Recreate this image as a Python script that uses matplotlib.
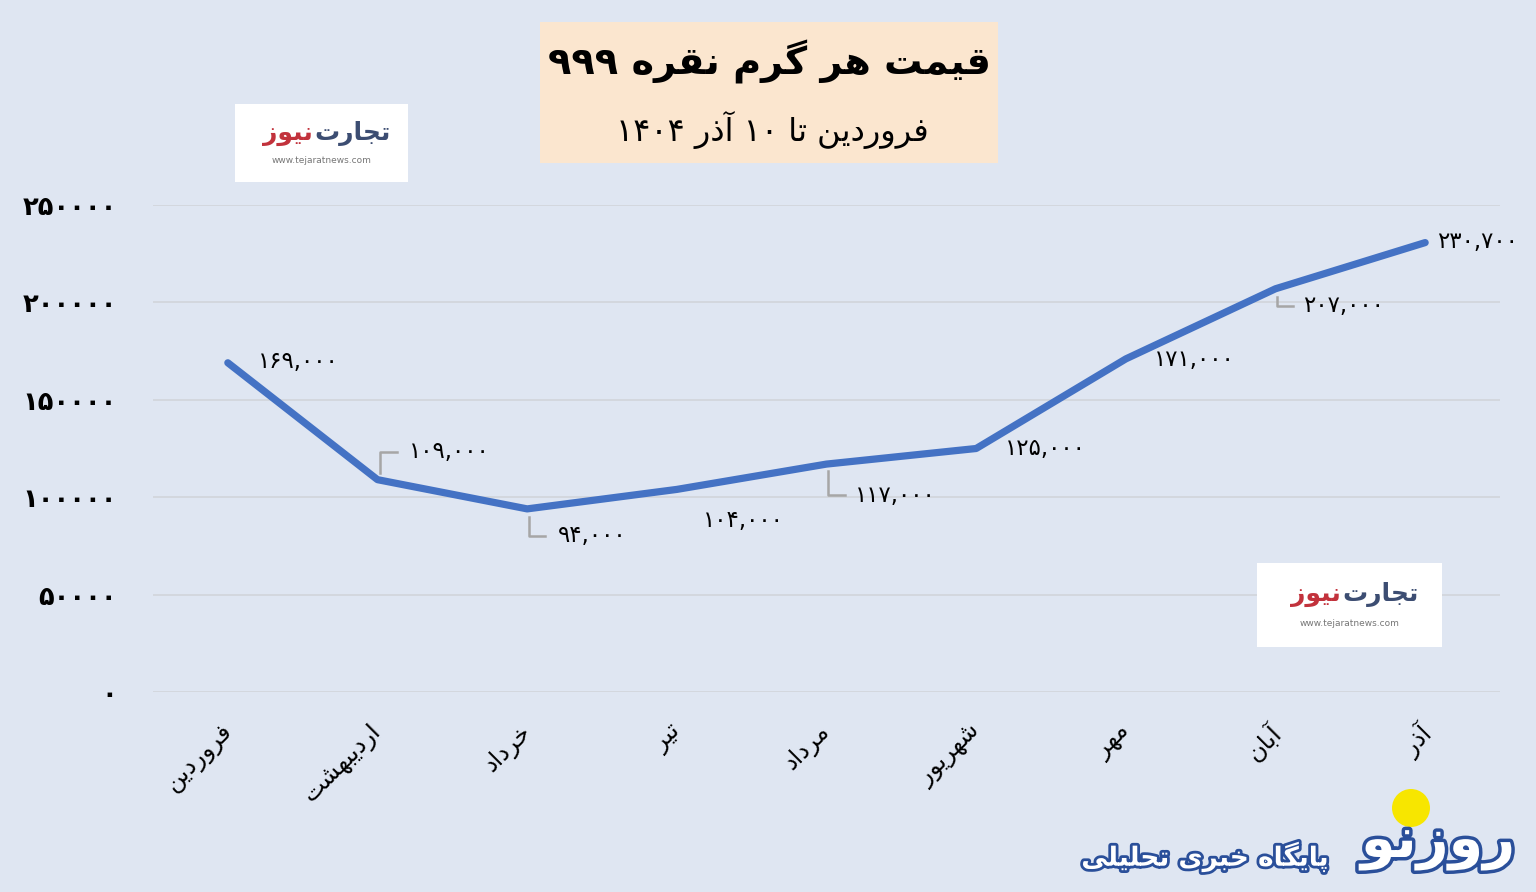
import re
import matplotlib
matplotlib.use("Agg")
from matplotlib import pyplot as plt
from matplotlib.patches import Rectangle, Ellipse
import matplotlib.patheffects as pe
import matplotlib.transforms as mtransforms

# data
months = ["فروردین", "اردیبهشت", "خرداد", "تیر", "مرداد", "شهریور", "مهر", "آبان", "آذر"]
prices = [169000, 109000, 94000, 104000, 117000, 125000, 171000, 207000, 230700]
y_ticks = [0, 50000, 100000, 150000, 200000, 250000]
title = "قیمت هر گرم نقره ۹۹۹"
subtitle = "فروردین تا ۱۰ آذر ۱۴۰۴"
brand_a = "تجارت"
brand_b = "نیوز"
brand_url = "www.tejaratnews.com"
footer_logo = "روزنو"
footer_text = "پایگاه خبری تحلیلی"

# label placement (pixels from the point), and leader lines
label_off = [(30, 1), (31, 28), (31, -27), (26, -31), (28, -31), (29, 0), (28, -1), (28, -17), (12, 1)]
leaders = {1: [(2, 7), (2, 28), (19, 28)],
           2: [(2, -8), (2, -27), (18, -27)],
           4: [(1, -7), (1, -31), (18, -31)],
           7: [(2, -8), (2, -17), (18, -17)]}

# --- minimal persian shaping (matplotlib has no bidi / joining) ---
# letter -> (isolated codepoint, number of forms)
FORMS = {
    'ا': (0xFE8D, 2), 'آ': (0xFE81, 2), 'ب': (0xFE8F, 4), 'پ': (0xFB56, 4),
    'ت': (0xFE95, 4), 'ج': (0xFE9D, 4), 'ح': (0xFEA1, 4), 'خ': (0xFEA5, 4),
    'د': (0xFEA9, 2), 'ذ': (0xFEAB, 2), 'ر': (0xFEAD, 2), 'ز': (0xFEAF, 2),
    'س': (0xFEB1, 4), 'ش': (0xFEB5, 4), 'ف': (0xFED1, 4), 'ق': (0xFED5, 4),
    'ک': (0xFB8E, 4), 'گ': (0xFB92, 4), 'ل': (0xFEDD, 4), 'م': (0xFEE1, 4),
    'ن': (0xFEE5, 4), 'ه': (0xFEE9, 4), 'و': (0xFEED, 2), 'ی': (0xFBFC, 4),
}


def shape(s):
    out = []
    for i, c in enumerate(s):
        if c not in FORMS:
            out.append(c)
            continue
        base, n = FORMS[c]
        prev = s[i - 1] if i > 0 else ''
        nxt = s[i + 1] if i + 1 < len(s) else ''
        jp = prev in FORMS and FORMS[prev][1] == 4
        jn = n == 4 and nxt in FORMS
        k = 3 if (jp and jn) else 1 if jp else 2 if jn else 0
        out.append(chr(base + k))
    return ''.join(out)


def fa(s):
    runs = re.findall(r'[0-9۰-۹,.]+|[^0-9۰-۹,.]+', shape(s))
    return ''.join(r if re.match(r'[0-9۰-۹]', r) else r[::-1] for r in reversed(runs))


DIG = str.maketrans('0123456789', '۰۱۲۳۴۵۶۷۸۹')


def fa_num(v, comma=False):
    return (f"{v:,}" if comma else str(v)).translate(DIG)


BG = '#dfe6f2'
plt.rcParams['font.family'] = ['DejaVu Sans']

fig = plt.figure(figsize=(15.36, 8.92), dpi=100, facecolor=BG)
ax = fig.add_axes([153 / 1536, 200 / 892, 1347 / 1536, 487 / 892])
ax.set_facecolor(BG)

x = list(range(len(months)))
ax.plot(x, prices, color='#4472c4', lw=5.2, solid_capstyle='round', solid_joinstyle='round', zorder=3)
ax.set_xlim(-0.5, len(months) - 0.5)
ax.set_ylim(0, 250000)
ax.set_yticks(y_ticks)
ax.set_yticklabels([fa_num(v) for v in y_ticks], fontsize=18.5, fontweight='bold')
ax.set_xticks(x)
ax.set_xticklabels([fa(m) for m in months], fontsize=17.5, rotation=45,
                   ha='right', va='top', rotation_mode='anchor')
ax.tick_params(axis='both', length=0, colors='black')
ax.tick_params(axis='y', pad=26)
ax.tick_params(axis='x', pad=20)
shift = mtransforms.ScaledTranslation(-8 / 100, 0, fig.dpi_scale_trans)
for lab in ax.get_xticklabels():
    lab.set_transform(lab.get_transform() + shift)
ax.grid(axis='y', color='#d2d6dc', lw=1.3)
ax.set_axisbelow(True)
for sp in ax.spines.values():
    sp.set_visible(False)

# data labels
for i, v in enumerate(prices):
    dx, dy = label_off[i]
    ax.annotate(fa_num(v, comma=True), (i, v), xytext=(dx, dy), textcoords='offset pixels',
                ha='left', va='center', fontsize=16.5, color='black', zorder=4)
for i, pts in leaders.items():
    px, py = ax.transData.transform((i, prices[i]))
    ax.plot([px + a for a, b in pts], [py + b for a, b in pts], transform=None,
            color='#a6a6a6', lw=1.8, zorder=2)

# title box
fig.patches.append(Rectangle((540 / 1536, 729 / 892), 458 / 1536, 141 / 892,
                             transform=fig.transFigure, facecolor='#fbe6cf', edgecolor='none'))
fig.text(769 / 1536, 830 / 892, fa(title), ha='center', va='center', fontsize=27.5, fontweight='bold')
fig.text(772 / 1536, 762 / 892, fa(subtitle), ha='center', va='center', fontsize=23)


def brand_box(x0, y0, w, h):
    fig.patches.append(Rectangle((x0 / 1536, y0 / 892), w / 1536, h / 892,
                                 transform=fig.transFigure, facecolor='white', edgecolor='none'))
    cx = (x0 + w / 2) / 1536
    split = cx - 8 / 1536
    fig.text(split + 1 / 1536, (y0 + h * 0.62) / 892, fa(brand_a), ha='left', va='center',
             fontsize=18, fontweight='bold', color='#3c4d72')
    fig.text(split - 1 / 1536, (y0 + h * 0.62) / 892, fa(brand_b), ha='right', va='center',
             fontsize=18, fontweight='bold', color='#c2323c')
    fig.text(cx, (y0 + h * 0.28) / 892, brand_url, ha='center', va='center',
             fontsize=6.5, color='#777777')


brand_box(235, 710, 173, 78)
brand_box(1257, 245, 185, 84)

# footer logo
fig.text(1438 / 1536, 48 / 892, fa(footer_logo), ha='center', va='center', fontsize=40,
         fontweight='bold', color='white',
         path_effects=[pe.withStroke(linewidth=5, foreground='#2a4f9a')])
fig.patches.append(Ellipse((1411 / 1536, 84 / 892), 38 / 1536, 38 / 892, transform=fig.transFigure,
                           facecolor='#f7e600', edgecolor='none'))
fig.text(1205 / 1536, 35 / 892, fa(footer_text), ha='center', va='center', fontsize=19,
         fontweight='bold', color='white',
         path_effects=[pe.withStroke(linewidth=4, foreground='#2a4f9a')])

fig.savefig('out.png', dpi=100, facecolor=BG)
